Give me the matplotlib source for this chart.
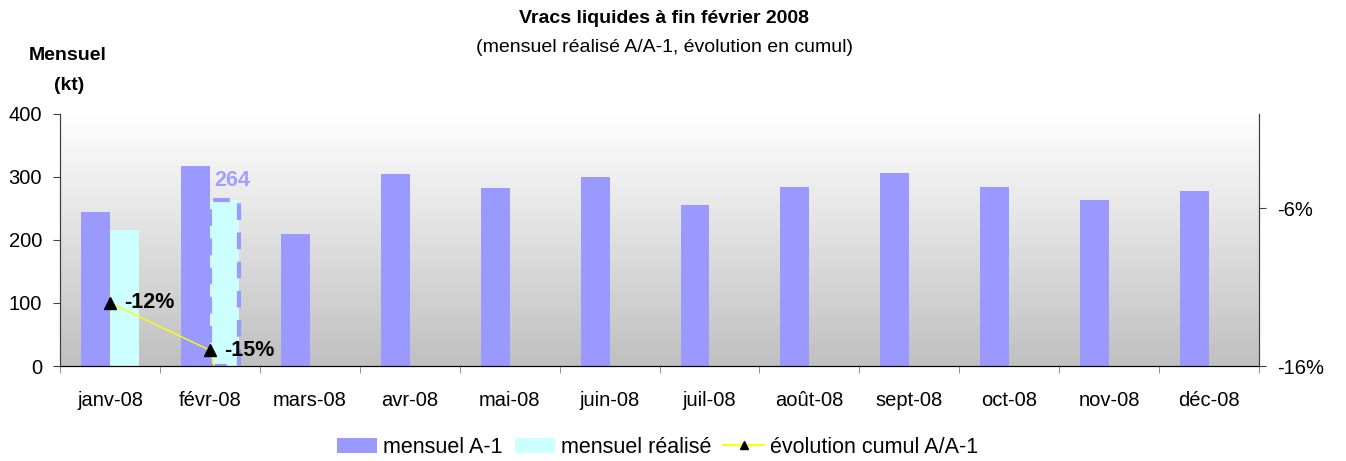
import numpy as np
import matplotlib
matplotlib.use("Agg")
import matplotlib.pyplot as plt
from matplotlib.lines import Line2D
from matplotlib.patches import Patch
from matplotlib.colors import LinearSegmentedColormap

plt.rcParams['font.family'] = ['Liberation Sans', 'DejaVu Sans']

months = ['janv-08', 'févr-08', 'mars-08', 'avr-08', 'mai-08', 'juin-08',
          'juil-08', 'août-08', 'sept-08', 'oct-08', 'nov-08', 'déc-08']
mensuel_a1 = [244, 317, 210, 305, 282, 300, 255, 284, 306, 284, 263, 278]
mensuel_realise = [216, 264]
evolution_cumul = [-0.12, -0.15, -0.38]
evo_labels = ['-12%', '-15%']
left_ticks = [0, 100, 200, 300, 400]
right_ticks = [-0.16, -0.06]
right_ticklabels = ['-16%', '-6%']

C_A1 = '#9999FF'
C_REAL = '#CCFFFF'
FS = 14.5

fig = plt.figure(figsize=(13.46, 4.61), dpi=100)
ax = fig.add_axes([0.0446, 0.206, 0.8908, 0.547])
ax2 = ax.twinx()

# gradient background
grad = np.linspace(0, 1, 256).reshape(-1, 1)
cmap = LinearSegmentedColormap.from_list('g', ['#C0C0C0', '#FFFFFF'])
ax.imshow(grad, cmap=cmap, aspect='auto', extent=[0, 1, 0, 1],
          transform=ax.transAxes, zorder=0, vmin=0, vmax=1, origin='lower')

x = np.arange(len(months))
w = 0.29
ax.bar(x - w / 2, mensuel_a1, width=w, color=C_A1, zorder=2)
xr = x[:len(mensuel_realise)] + w / 2
ax.bar(xr[:1], mensuel_realise[:1], width=w, color=C_REAL, zorder=2)
# second réalisé bar drawn with a dashed purple outline
ax.bar(xr[1:], mensuel_realise[1:], width=w, color=C_REAL, edgecolor=C_A1,
       linewidth=3, linestyle=(0, (4, 3)), zorder=2)
ax.text(xr[1] + 0.08, mensuel_realise[1] + 14, str(mensuel_realise[1]),
        color='#A0A0FF', fontsize=15.5, fontweight='bold', ha='center', va='bottom', zorder=5)

ax.set_xlim(-0.5, len(months) - 0.5)
ax.set_ylim(0, 400)
ax.set_yticks(left_ticks)
ax.set_xticks(x)
ax.set_xticklabels(months, fontsize=FS)
ax.set_xticks(np.arange(-0.5, len(months)), minor=True)
ax.tick_params(axis='x', which='major', length=0, pad=18)
ax.tick_params(axis='x', which='minor', length=5, color='#808080', direction='out')
ax.tick_params(axis='y', labelsize=FS, length=5, direction='out', color='#404040', pad=8)

ax2.plot(x[:len(evolution_cumul)], evolution_cumul, color='#FFFF00', linewidth=1.0,
         marker='^', markersize=8, markerfacecolor='black', markeredgecolor='black', zorder=4)
ax2.set_ylim(-0.16, 0.0)
ax2.set_yticks(right_ticks)
ax2.set_yticklabels(right_ticklabels, fontsize=FS)
ax2.tick_params(axis='y', length=5, direction='out', color='#404040', pad=8)
for i, lab in enumerate(evo_labels):
    ax2.text(x[i] + 0.14, evolution_cumul[i], lab, fontsize=15.5, fontweight='bold',
             ha='left', va='center', zorder=6)

for a in (ax, ax2):
    a.spines['top'].set_visible(False)
    a.spines['left'].set_color('#404040')
    a.spines['right'].set_color('#404040')
    a.spines['bottom'].set_color('black')
ax2.patch.set_visible(False)

fig.text(0.4935, 0.96, 'Vracs liquides à fin février 2008', ha='center', va='center',
         fontsize=14, fontweight='bold')
fig.text(0.4935, 0.896, '(mensuel réalisé A/A-1, évolution en cumul)', ha='center',
         va='center', fontsize=14)
fig.text(0.050, 0.88, 'Mensuel', ha='center', va='center', fontsize=14, fontweight='bold')
fig.text(0.051, 0.815, '(kt)', ha='center', va='center', fontsize=14, fontweight='bold')

handles = [Patch(facecolor=C_A1, edgecolor='none'),
           Patch(facecolor=C_REAL, edgecolor='none'),
           Line2D([0], [0], color='#FFFF00', marker='^', markerfacecolor='black',
                  markeredgecolor='black', markersize=6)]
fig.legend(handles, ['mensuel A-1', 'mensuel réalisé', 'évolution cumul A/A-1'],
           loc='center', bbox_to_anchor=(0.4885, 0.03), ncol=3, frameon=False,
           fontsize=15.5, handlelength=1.86, handletextpad=0.28, columnspacing=0.56)

fig.savefig('out.png', dpi=100)
